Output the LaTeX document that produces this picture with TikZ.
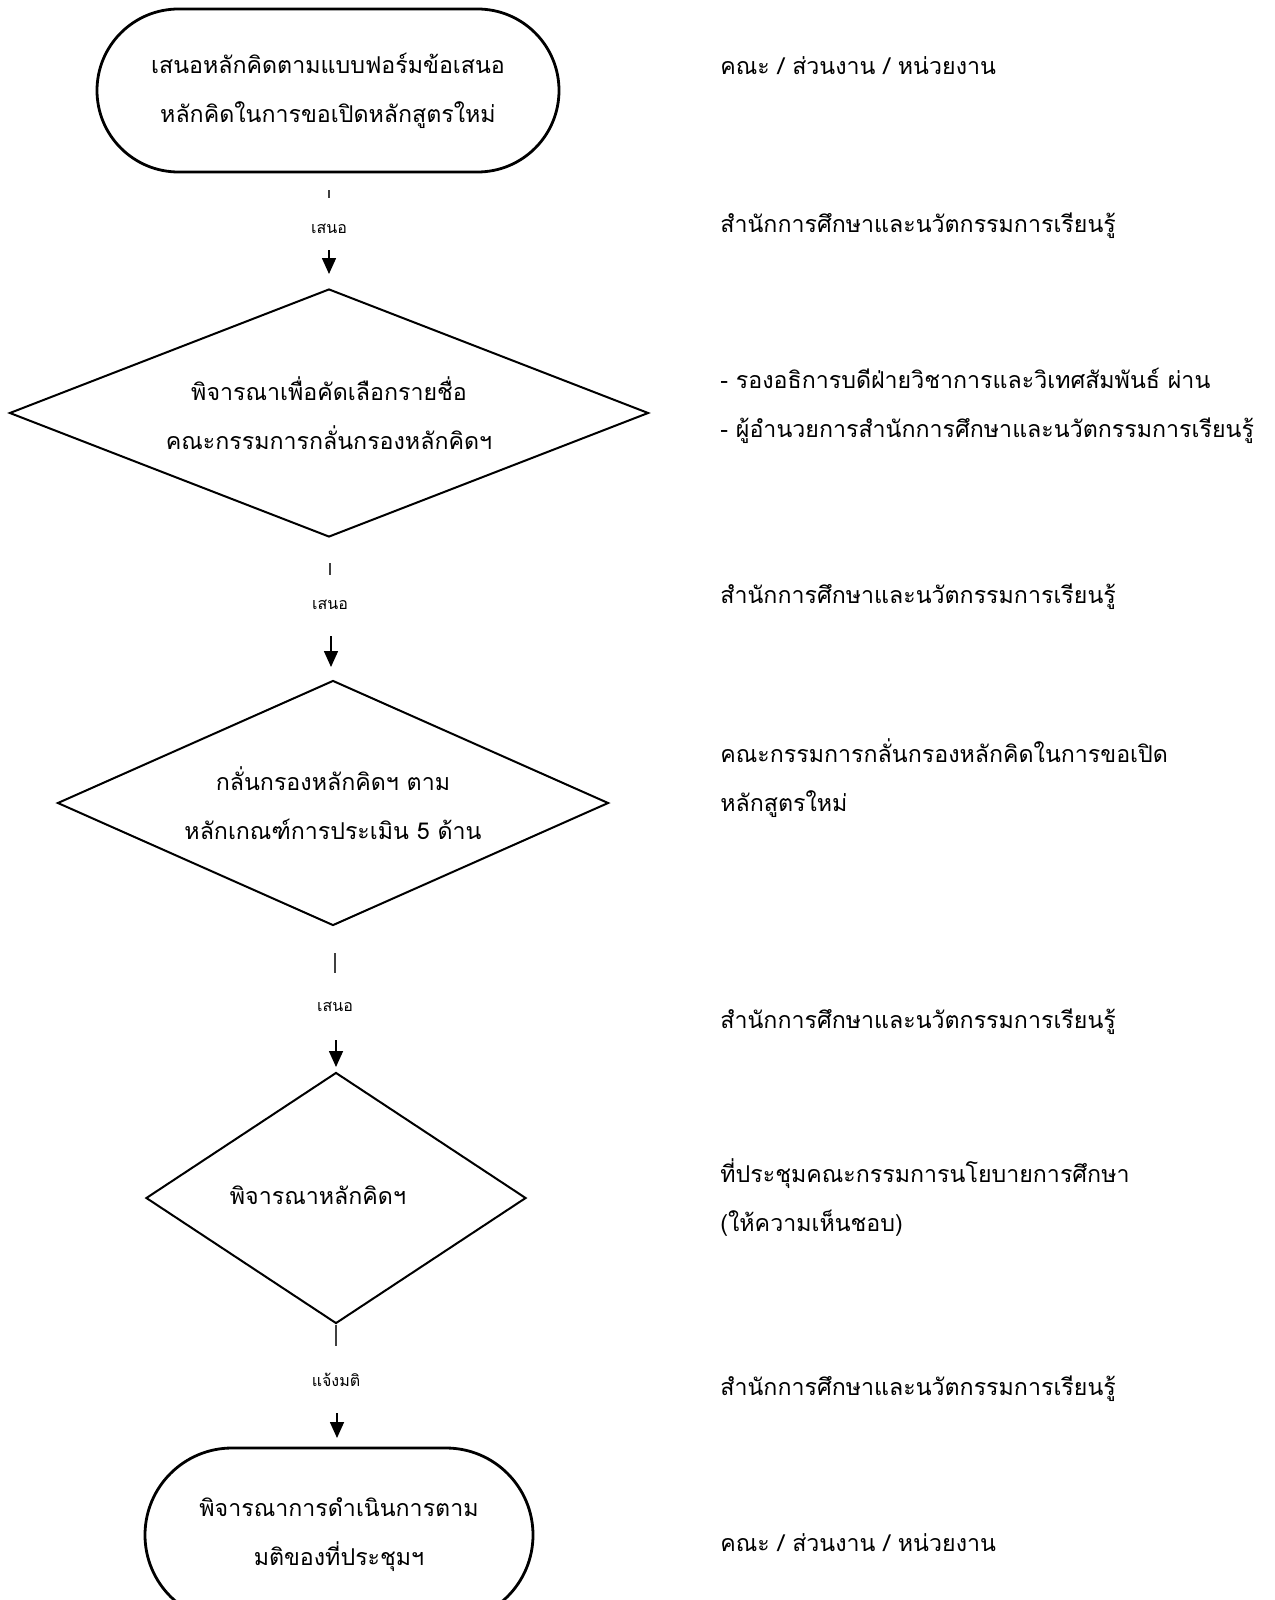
\documentclass[tikz,border=0pt]{standalone}
\usepackage{fontspec}
\usepackage{tikz}
\usetikzlibrary{positioning}
\usetikzlibrary{shapes.geometric}
\usetikzlibrary{shapes.misc}
\usetikzlibrary{arrows.meta}
\newfontfamily\thaifont[Script=Thai]{Loma}

\begin{document}
\begin{tikzpicture}[x=0.5pt,y=-0.5pt,
    every node/.style={font=\thaifont\fontsize{11.6}{24.5}\selectfont},
    term/.style={rounded rectangle,draw,line width=1.4pt,align=center,inner sep=0pt},
    decision/.style={diamond,draw,line width=1pt,align=center,inner sep=0pt},
    note/.style={anchor=west,align=left,inner sep=0pt},
    tag/.style={font=\thaifont\fontsize{8}{10}\selectfont,inner sep=1pt},
    tick/.style={draw=black!75,line width=0.6pt},
    flow/.style={line width=0.8pt,-{Triangle[width=7pt,length=8pt]}}]
      \useasboundingbox (0,0) rectangle (1274,1600);
      %%%%%%%%%%%%%%%%%%%%%%%%%%%%%%%%%%%%%%%%%%%%%%%%%%%%%%%%%%%%%%%%%%%%%%%%%%
      %%% BEGIN: FLOW.
      %%%%%%%%%%%%%%%%%%%%%%%%%%%%%%%%%%%%%%%%%%%%%%%%%%%%%%%%%%%%%%%%%%%%%%%%%%
      % Start and decisions.
      \node[term,minimum width=231pt,minimum height=81.5pt] (start) at (328,90.5)
        {เสนอหลักคิดตามแบบฟอร์มข้อเสนอ\\หลักคิดในการขอเปิดหลักสูตรใหม่};
      \node[decision,aspect=2.58,minimum width=319.5pt,minimum height=124pt] (pick) at (329,413)
        {พิจารณาเพื่อคัดเลือกรายชื่อ\\คณะกรรมการกลั่นกรองหลักคิดฯ};
      \node[decision,aspect=2.25,minimum width=275.5pt,minimum height=122.5pt] (screen) at (333,803)
        {กลั่นกรองหลักคิดฯ ตาม\\หลักเกณฑ์การประเมิน 5 ด้าน};
      \node[decision,aspect=1.5,minimum width=190pt,minimum height=125.5pt] (vote) at (336,1198) {};
      \node (votetxt) at (318,1195) {พิจารณาหลักคิดฯ};
      \node[term,minimum width=194pt,minimum height=87pt] (finish) at (339,1535)
        {พิจารณาการดำเนินการตาม\\มติของที่ประชุมฯ};

      % Connectors.
      \coordinate (t1a) at (329,190);  \coordinate (t1b) at (329,198);
      \coordinate (a1a) at (329,250);  \coordinate (a1b) at (329,274);
      \draw[tick] (t1a) -- (t1b);
      \node[tag] (l1) at (329,229) {เสนอ};
      \draw[flow] (a1a) -- (a1b);

      \coordinate (t2a) at (330,563);  \coordinate (t2b) at (330,575);
      \coordinate (a2a) at (331,636);  \coordinate (a2b) at (331,667);
      \draw[tick] (t2a) -- (t2b);
      \node[tag] (l2) at (330,605) {เสนอ};
      \draw[flow] (a2a) -- (a2b);

      \coordinate (t3a) at (335,953);  \coordinate (t3b) at (335,973);
      \coordinate (a3a) at (336,1040); \coordinate (a3b) at (336,1067);
      \draw[tick] (t3a) -- (t3b);
      \node[tag] (l3) at (335,1007) {เสนอ};
      \draw[flow] (a3a) -- (a3b);

      \coordinate (t4b) at (336,1346);
      \coordinate (a4a) at (337,1413); \coordinate (a4b) at (337,1438);
      \draw[tick] (vote.south) -- (t4b);
      \node[tag] (l4) at (336,1380) {แจ้งมติ};
      \draw[flow] (a4a) -- (a4b);
      %%%%%%%%%%%%%%%%%%%%%%%%%%%%%%%%%%%%%%%%%%%%%%%%%%%%%%%%%%%%%%%%%%%%%%%%%%
      %%% END: FLOW.
      %%%%%%%%%%%%%%%%%%%%%%%%%%%%%%%%%%%%%%%%%%%%%%%%%%%%%%%%%%%%%%%%%%%%%%%%%%

      %%%%%%%%%%%%%%%%%%%%%%%%%%%%%%%%%%%%%%%%%%%%%%%%%%%%%%%%%%%%%%%%%%%%%%%%%%
      %%% BEGIN: RESPONSIBLE UNITS.
      %%%%%%%%%%%%%%%%%%%%%%%%%%%%%%%%%%%%%%%%%%%%%%%%%%%%%%%%%%%%%%%%%%%%%%%%%%
      \node[note] (u1) at (720,66) {คณะ / ส่วนงาน / หน่วยงาน};
      \node[note] (u2) at (720,226) {สำนักการศึกษาและนวัตกรรมการเรียนรู้};
      \node[note] (u3) at (720,406)
        {- รองอธิการบดีฝ่ายวิชาการและวิเทศสัมพันธ์ ผ่าน\\- ผู้อำนวยการสำนักการศึกษาและนวัตกรรมการเรียนรู้};
      \node[note] (u4) at (720,597) {สำนักการศึกษาและนวัตกรรมการเรียนรู้};
      \node[note] (u5) at (720,778)
        {คณะกรรมการกลั่นกรองหลักคิดในการขอเปิด\\หลักสูตรใหม่};
      \node[note] (u6) at (720,1022) {สำนักการศึกษาและนวัตกรรมการเรียนรู้};
      \node[note] (u7) at (720,1197)
        {ที่ประชุมคณะกรรมการนโยบายการศึกษา\\(ให้ความเห็นชอบ)};
      \node[note] (u8) at (720,1389) {สำนักการศึกษาและนวัตกรรมการเรียนรู้};
      \node[note] (u9) at (720,1543) {คณะ / ส่วนงาน / หน่วยงาน};
      %%%%%%%%%%%%%%%%%%%%%%%%%%%%%%%%%%%%%%%%%%%%%%%%%%%%%%%%%%%%%%%%%%%%%%%%%%
      %%% END: RESPONSIBLE UNITS.
      %%%%%%%%%%%%%%%%%%%%%%%%%%%%%%%%%%%%%%%%%%%%%%%%%%%%%%%%%%%%%%%%%%%%%%%%%%
\end{tikzpicture}
\end{document}
